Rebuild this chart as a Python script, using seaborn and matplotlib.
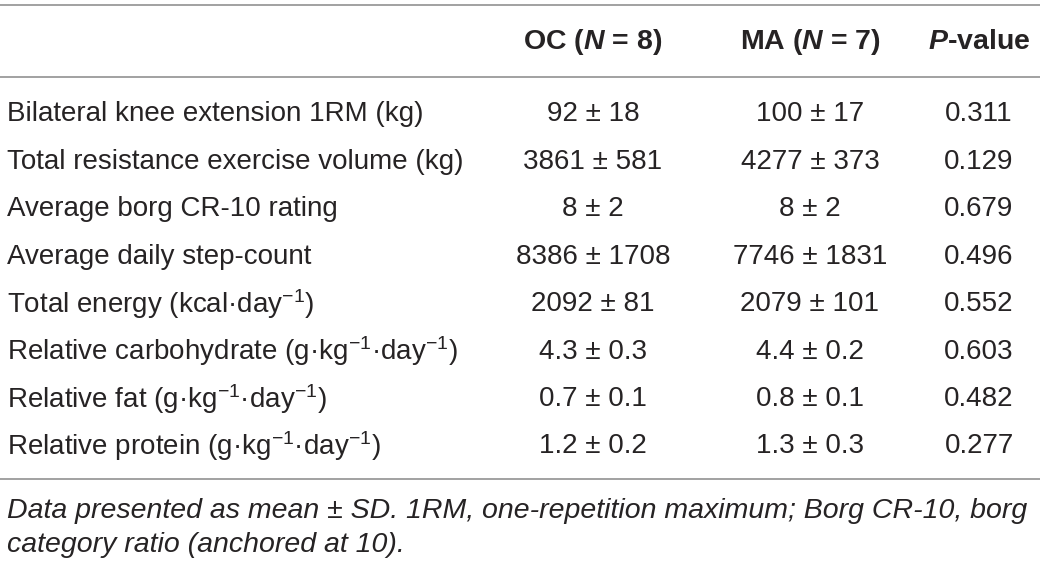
import matplotlib
matplotlib.use("Agg")
import matplotlib.pyplot as plt
import seaborn as sns

# table content
row_labels = [
    "Bilateral knee extension 1RM (kg)",
    "Total resistance exercise volume (kg)",
    "Average borg CR-10 rating",
    "Average daily step-count",
    "Total energy (kcal\u00b7day$^{-1}$)",
    "Relative carbohydrate (g\u00b7kg$^{-1}$\u00b7day$^{-1}$)",
    "Relative fat (g\u00b7kg$^{-1}$\u00b7day$^{-1}$)",
    "Relative protein (g\u00b7kg$^{-1}$\u00b7day$^{-1}$)",
]
oc_mean = ["92", "3861", "8", "8386", "2092", "4.3", "0.7", "1.2"]
oc_sd = ["18", "581", "2", "1708", "81", "0.3", "0.1", "0.2"]
ma_mean = ["100", "4277", "8", "7746", "2079", "4.4", "0.8", "1.3"]
ma_sd = ["17", "373", "2", "1831", "101", "0.2", "0.1", "0.3"]
p_values = ["0.311", "0.129", "0.679", "0.496", "0.552", "0.603", "0.482", "0.277"]
col_headers = ["OC ($\\mathbfit{N}$ = 8)", "MA ($\\mathbfit{N}$ = 7)", "$\\mathbfit{P}$-value"]
footnote = ["Data presented as mean \u00b1 SD. 1RM, one-repetition maximum; Borg CR-10, borg",
            "category ratio (anchored at 10)."]

sns.set_theme(style="white")
plt.rcParams["font.family"] = ["Liberation Sans", "DejaVu Sans"]
plt.rcParams["mathtext.fontset"] = "custom"
plt.rcParams["mathtext.rm"] = "Liberation Sans"
plt.rcParams["mathtext.it"] = "Liberation Sans:italic"
plt.rcParams["mathtext.bf"] = "Liberation Sans:bold"
plt.rcParams["mathtext.bfit"] = "Liberation Sans:italic:bold"

txt = "#262324"
line_c = "#9a9a9a"
fs = 20

fig = plt.figure(figsize=(10.4, 5.65), dpi=100)
ax = fig.add_axes([0, 0, 1, 1])
ax.set_xlim(0, 1040)
ax.set_ylim(9.53, -2.38)
ax.axis("off")

col_x = [593, 810, 979]

# rules
for y in [-2.28, -0.76, 7.72]:
    ax.plot([0, 1040], [y, y], color=line_c, lw=1.3, solid_capstyle="butt")

# header
for x, h in zip(col_x, col_headers):
    ax.text(x, -1.5, h, ha="center", va="center", fontsize=20.5, fontweight="bold", color=txt)

# body rows
for i, lab in enumerate(row_labels):
    y = i + 0.03
    ax.text(7, y, lab, ha="left", va="center", fontsize=fs, color=txt)
    ax.text(col_x[0], y, f"{oc_mean[i]} \u00b1 {oc_sd[i]}", ha="center", va="center", fontsize=fs, color=txt)
    ax.text(col_x[1], y, f"{ma_mean[i]} \u00b1 {ma_sd[i]}", ha="center", va="center", fontsize=fs, color=txt)
    ax.text(col_x[2], y, p_values[i], ha="center", va="center", fontsize=fs, color=txt)

# footnote
for k, line in enumerate(footnote):
    ax.text(7, 8.4 + 0.7 * k, line, ha="left", va="center", fontsize=20.5, style="italic", color=txt)

fig.savefig("out.png", dpi=100)
